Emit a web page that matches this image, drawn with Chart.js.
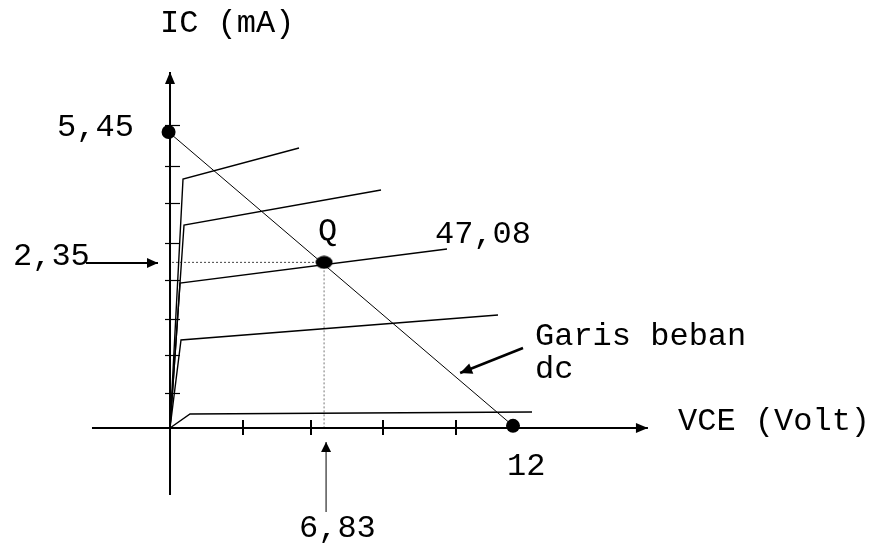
<!DOCTYPE html>
<html><head><meta charset="utf-8">
<script src="https://cdn.jsdelivr.net/npm/chart.js@4/dist/chart.umd.min.js"></script>
<style>html,body{margin:0;padding:0;background:#fff}canvas{display:block}</style>
</head><body>
<canvas id="c" width="870" height="544"></canvas>
<script>
// ---- data (VCE in V, IC in mA, as placed on the schematic drawing) ----
const curveKneeVce = [0.455, 0.49, 0.35, 0.385, 0.70];
const curveKneeIc  = [4.585, 3.738, 2.670, 1.620, 0.258];
const curveEndVce  = [4.513, 7.382, 9.691, 11.475, 12.665];
const curveEndIc   = [5.156, 4.382, 3.296, 2.081, 0.295];

const loadVce = [-0.05, 12];
const loadIc  = [5.45, 0.04];
const qVce = [5.39];
const qIc  = [3.05];

const xAxisVce = [-2.73, 16.72];
const yAxisIc  = [-1.234, 6.555];
const xTicks = [2.55, 4.93, 7.45, 10.0];
const yTicks = [0.644, 1.344, 2.007, 2.725, 3.406, 4.143, 4.824, 5.579];

const guideHVce = [0.07, 5.39];
const guideVIc  = [3.05, 0];

const arrow235Vce = [-2.94, -0.42];
const arrow235Ic  = [3.04, 3.04];
const arrow683Vce = [5.46, 5.46];
const arrow683Ic  = [-1.547, -0.258];
const arrowLoadVce = [12.35, 10.15];
const arrowLoadIc  = [1.473, 1.013];

const labelTexts = ['IC (mA)', '5,45', '2,35', 'Q', '47,08', 'Garis beban', 'dc', 'VCE (Volt)', '12', '6,83'];
const labelVce = [-0.35, -3.953, -5.493, 5.178, 9.271, 12.77, 12.77, 17.773, 11.79, 4.513];
const labelIc  = [7.291, 5.377, 3.001, 3.462, 3.406, 1.528, 0.921, -0.037, -0.865, -2.007];

// ---- helpers ----
const pts = (xs, ys) => xs.map((x, i) => ({x: x, y: ys[i]}));
const lineDs = (data, w, extra) => Object.assign({
  data, showLine: true, borderColor: '#000', borderWidth: w, pointRadius: 0,
  fill: false, tension: 0, clip: false, order: 5
}, extra || {});

const datasets = [];
datasets.push(lineDs(pts(xAxisVce, [0, 0]), 2, {arrowHead: [12, 5]}));
datasets.push(lineDs(pts([0, 0], yAxisIc), 2, {arrowHead: [12, 5]}));
for (let k = 0; k < curveKneeVce.length; k++) {
  datasets.push(lineDs(pts([0, curveKneeVce[k], curveEndVce[k]], [0, curveKneeIc[k], curveEndIc[k]]), 1.4));
}
datasets.push(lineDs(pts(loadVce, loadIc), 1));
datasets.push(lineDs(pts(guideHVce, [qIc[0], qIc[0]]), 1, {borderColor: '#444', borderDash: [2, 2]}));
datasets.push(lineDs(pts([qVce[0], qVce[0]], guideVIc), 1, {borderColor: '#777', borderDash: [2, 2]}));
datasets.push(lineDs(pts(arrow235Vce, arrow235Ic), 2, {arrowHead: [11, 5]}));
datasets.push(lineDs(pts(arrow683Vce, arrow683Ic), 1, {arrowHead: [10, 5]}));
datasets.push(lineDs(pts(arrowLoadVce, arrowLoadIc), 2.5, {arrowHead: [12, 5.5]}));

// Q ellipse marker
const qMark = document.createElement('canvas');
qMark.width = 18; qMark.height = 14;
(function(){ const g = qMark.getContext('2d'); g.fillStyle = '#000'; g.beginPath(); g.ellipse(9, 7, 8.5, 6.5, 0, 0, Math.PI * 2); g.fill(); })();

datasets.push({data: pts(loadVce, loadIc), showLine: false, pointRadius: 7, pointBackgroundColor: '#000', pointBorderWidth: 0, clip: false, order: 0});
datasets.push({data: pts(qVce, qIc), showLine: false, pointStyle: qMark, pointRadius: 8, clip: false, order: 0});

const decor = {
  id: 'decor',
  afterDatasetsDraw(chart) {
    const ctx = chart.ctx, xs = chart.scales.x, ys = chart.scales.y;
    ctx.save();
    // arrow heads
    chart.data.datasets.forEach((ds, i) => {
      if (!ds.arrowHead) return;
      const m = chart.getDatasetMeta(i).data;
      const a = m[m.length - 2], b = m[m.length - 1];
      const ang = Math.atan2(b.y - a.y, b.x - a.x);
      const L = ds.arrowHead[0], W = ds.arrowHead[1];
      ctx.fillStyle = '#000';
      ctx.beginPath();
      ctx.moveTo(b.x, b.y);
      ctx.lineTo(b.x - L * Math.cos(ang) + W * Math.sin(ang), b.y - L * Math.sin(ang) - W * Math.cos(ang));
      ctx.lineTo(b.x - L * Math.cos(ang) - W * Math.sin(ang), b.y - L * Math.sin(ang) + W * Math.cos(ang));
      ctx.closePath();
      ctx.fill();
    });
    // axis ticks
    ctx.strokeStyle = '#000';
    ctx.lineWidth = 2;
    const x0 = xs.getPixelForValue(0), y0 = ys.getPixelForValue(0);
    xTicks.forEach(v => {
      const px = Math.round(xs.getPixelForValue(v));
      ctx.beginPath(); ctx.moveTo(px, y0 - 8); ctx.lineTo(px, y0 + 7); ctx.stroke();
    });
    ctx.lineWidth = 1.2;
    yTicks.forEach(v => {
      const py = Math.round(ys.getPixelForValue(v)) + 0.5;
      ctx.beginPath(); ctx.moveTo(x0 - 5, py); ctx.lineTo(x0 + 10, py); ctx.stroke();
    });
    // labels
    ctx.fillStyle = '#000';
    ctx.font = '32px "Liberation Mono", monospace';
    ctx.textAlign = 'left';
    ctx.textBaseline = 'alphabetic';
    labelTexts.forEach((t, i) => {
      ctx.fillText(t, xs.getPixelForValue(labelVce[i]), ys.getPixelForValue(labelIc[i]));
    });
    ctx.restore();
  }
};

new Chart(document.getElementById('c'), {
  type: 'scatter',
  data: {datasets},
  options: {
    responsive: false,
    animation: false,
    events: [],
    layout: {padding: 0, autoPadding: false},
    plugins: {legend: {display: false}, tooltip: {enabled: false}},
    scales: {
      x: {type: 'linear', display: false, min: -5.948, max: 24.490},
      y: {type: 'linear', display: false, min: -2.136, max: 7.881}
    }
  },
  plugins: [decor]
});
</script>
</body></html>
